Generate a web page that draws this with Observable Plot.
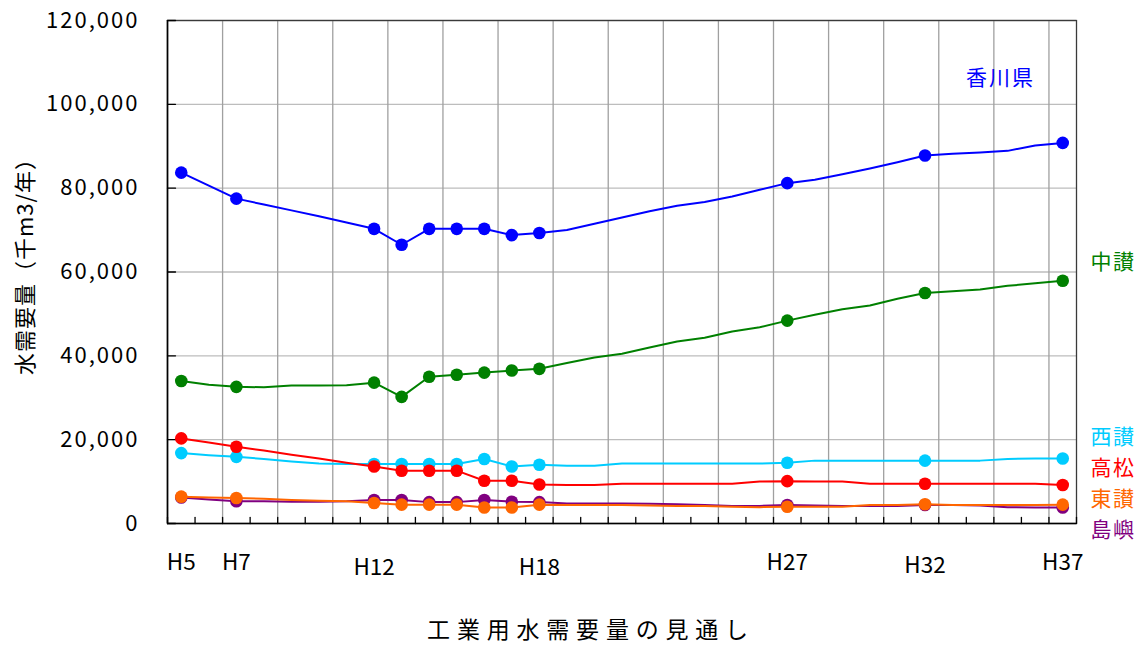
<!DOCTYPE html>
<html>
<head>
<meta charset="utf-8">
<script src="https://cdn.jsdelivr.net/npm/d3@7"></script>
<script src="https://cdn.jsdelivr.net/npm/@observablehq/plot@0.6"></script>
<style>
  body { margin: 0; background: #fff; }
  #chart svg { font-family: "Noto Sans CJK JP", "Noto Sans", sans-serif; }
</style>
</head>
<body>
<div id="chart"></div>
<script>
// 年度（平成）: H5〜H37
const years = [5, 6, 7, 8, 9, 10, 11, 12, 13, 14, 15, 16, 17, 18, 19, 20, 21,
  22, 23, 24, 25, 26, 27, 28, 29, 30, 31, 32, 33, 34, 35, 36, 37];

// 実績・計画値にマーカーを付ける年度
const markerYears = [5, 7, 12, 13, 14, 15, 16, 17, 18, 27, 32, 37];

// 軸に表示する年度ラベル
const labelYears = [5, 7, 12, 18, 27, 32, 37];
const yTicks = [0, 20000, 40000, 60000, 80000, 100000, 120000];

// 工業用水需要量（千m3/年）
const kagawa = [83700, 80600, 77500, 76100, 74700, 73300, 71800, 70300, 66500, 70300,
  70300, 70300, 68800, 69300, 70000, 71500, 73000, 74500, 75800, 76700, 78000, 79600,
  81200, 82000, 83300, 84700, 86200, 87800, 88200, 88500, 88900, 90200, 90800];
const chusan = [34000, 33100, 32600, 32500, 32900, 32900, 33000, 33600, 30200, 35000,
  35500, 36000, 36500, 36900, 38300, 39600, 40500, 42000, 43400, 44300, 45800, 46800,
  48400, 49800, 51100, 52000, 53600, 55000, 55400, 55800, 56700, 57300, 57900];
const seisan = [16800, 16300, 15900, 15400, 14800, 14300, 14200, 14200, 14200, 14200,
  14200, 15400, 13600, 14000, 13800, 13800, 14300, 14300, 14300, 14300, 14300, 14300,
  14500, 15000, 15000, 15000, 15000, 15000, 15000, 15000, 15400, 15500, 15500];
const takamatsu = [20300, 19300, 18300, 17400, 16400, 15500, 14500, 13600, 12600, 12600,
  12600, 10200, 10200, 9300, 9200, 9200, 9500, 9500, 9500, 9500, 9500, 10000,
  10100, 10000, 10000, 9500, 9500, 9500, 9500, 9500, 9500, 9500, 9200];
const tosho = [6200, 5700, 5300, 5300, 5200, 5200, 5300, 5600, 5600, 5100,
  5100, 5600, 5200, 5100, 4800, 4800, 4800, 4700, 4600, 4400, 4200, 4200,
  4400, 4300, 4200, 4200, 4200, 4400, 4400, 4300, 3900, 3800, 3800];
const tosan = [6400, 6200, 6100, 5900, 5600, 5400, 5300, 4900, 4500, 4500,
  4500, 3800, 3800, 4500, 4400, 4400, 4400, 4300, 4200, 4200, 4000, 3900,
  4000, 4000, 4000, 4400, 4400, 4600, 4400, 4400, 4400, 4400, 4500];

// 描画順（後のものが上に重なる）
const seriesNames = ["香川県", "中讃", "西讃", "高松", "島嶼", "東讃"];
const seriesValues = [kagawa, chusan, seisan, takamatsu, tosho, tosan];
const seriesColors = ["#0000ff", "#008000", "#00ccff", "#ff0000", "#800080", "#ff6600"];

// 右側の地域名ラベル（上から順）
const sideLabels = ["中讃", "西讃", "高松", "東讃", "島嶼"];

const colorOf = new Map(seriesNames.map((n, i) => [n, seriesColors[i]]));
const rows = seriesNames.flatMap((name, s) =>
  years.map((year, i) => ({name, year, value: seriesValues[s][i]})));

// 年度区切り（目盛）と2年ごとの縦グリッド
const boundaries = years.map(y => y - 0.5).concat([years[years.length - 1] + 0.5]);
const xGrid = boundaries.filter((b, i) => i > 0 && i < boundaries.length - 1 && i % 2 === 0);

// ラベルの縦位置（px）
const labelDy = {12: 5, 18: 5, 32: 3};
const sideDy = {"中讃": 242, "西讃": 417, "高松": 447.5, "東讃": 478.5, "島嶼": 509.5};

// 内向きの目盛線
const tickShape = {draw(context, l) { context.moveTo(0, 0); context.lineTo(0, -l); }};

const seriesMarks = seriesNames.flatMap(name => {
  const data = rows.filter(d => d.name === name);
  const color = colorOf.get(name);
  return [
    Plot.line(data, {x: "year", y: "value", stroke: color, strokeWidth: 2}),
    Plot.dot(data.filter(d => markerYears.includes(d.year)),
      {x: "year", y: "value", r: 6.3, fill: color, stroke: "none"})
  ];
});

const xLabelMarks = labelYears.map(yr =>
  Plot.text([yr], {x: d => d, text: d => "H" + d, frameAnchor: "bottom",
    lineAnchor: "middle", dy: 39 + (labelDy[yr] || 0), fontSize: 22.5, fill: "#000"}));

const sideLabelMarks = sideLabels.map(name =>
  Plot.text([name], {frameAnchor: "top-right", dx: 14, dy: sideDy[name],
    textAnchor: "start", lineAnchor: "middle", fontSize: 21, fill: colorOf.get(name)}));

const chart = Plot.plot({
  width: 1142,
  height: 646,
  marginLeft: 167,
  marginRight: 66,
  marginTop: 20,
  marginBottom: 123,
  x: {domain: [4.5, 37.5], axis: null},
  y: {domain: [0, 120000], axis: null},
  style: {background: "#fff", color: "#000", overflow: "visible"},
  marks: [
    Plot.ruleY(yTicks.slice(1), {stroke: "#bdbdbd", strokeWidth: 1.3}),
    Plot.ruleX(xGrid, {stroke: "#a0a0a0", strokeWidth: 1.3}),
    Plot.frame({stroke: "#3a3a3a", strokeWidth: 1.3}),
    Plot.ruleX([4.5], {stroke: "#000", strokeWidth: 1.6}),
    Plot.ruleY([0], {stroke: "#000", strokeWidth: 1.6}),
    Plot.vector(boundaries, {x: d => d, y: 0, length: 6, rotate: 0, anchor: "start",
      shape: tickShape, stroke: "#000", strokeWidth: 1.3}),
    Plot.vector(yTicks, {x: 4.5, y: d => d, length: 8, rotate: 90, anchor: "start",
      shape: tickShape, stroke: "#000", strokeWidth: 1.3}),
    Plot.axisY(yTicks, {tickSize: 0, tickPadding: 28, tickFormat: d3.format(","),
      fontSize: 22, label: null}),
    ...seriesMarks,
    ...xLabelMarks,
    Plot.text(["香川県"], {frameAnchor: "top-right", dx: -76, dy: 58, textAnchor: "middle",
      lineAnchor: "middle", fontSize: 21, fill: colorOf.get("香川県")}),
    ...sideLabelMarks,
    Plot.text(["水需要量（千m3/年）"], {frameAnchor: "left", dx: -142, dy: -11,
      textAnchor: "middle", lineAnchor: "middle", rotate: -90, fontSize: 22, fill: "#000"}),
    Plot.text(["工業用水需要量の見通し"], {frameAnchor: "bottom", dx: -31, dy: 107,
      textAnchor: "middle", lineAnchor: "middle", fontSize: 23, fill: "#000"})
  ]
});

// 文字間隔
const spacing = new Map([
  ["工業用水需要量の見通し", "6.8px"],
  ["水需要量（千m3/年）", "1px"],
  ["香川県", "2px"]
]);
d3.select(chart).selectAll("text").each(function () {
  const t = this.textContent;
  if (spacing.has(t)) d3.select(this).style("letter-spacing", spacing.get(t));
  else if (/^[\d,]+$/.test(t)) d3.select(this).style("letter-spacing", "2px");
  else if (sideLabels.includes(t)) d3.select(this).style("letter-spacing", "1.5px");
});

document.getElementById("chart").append(chart);
</script>
</body>
</html>
